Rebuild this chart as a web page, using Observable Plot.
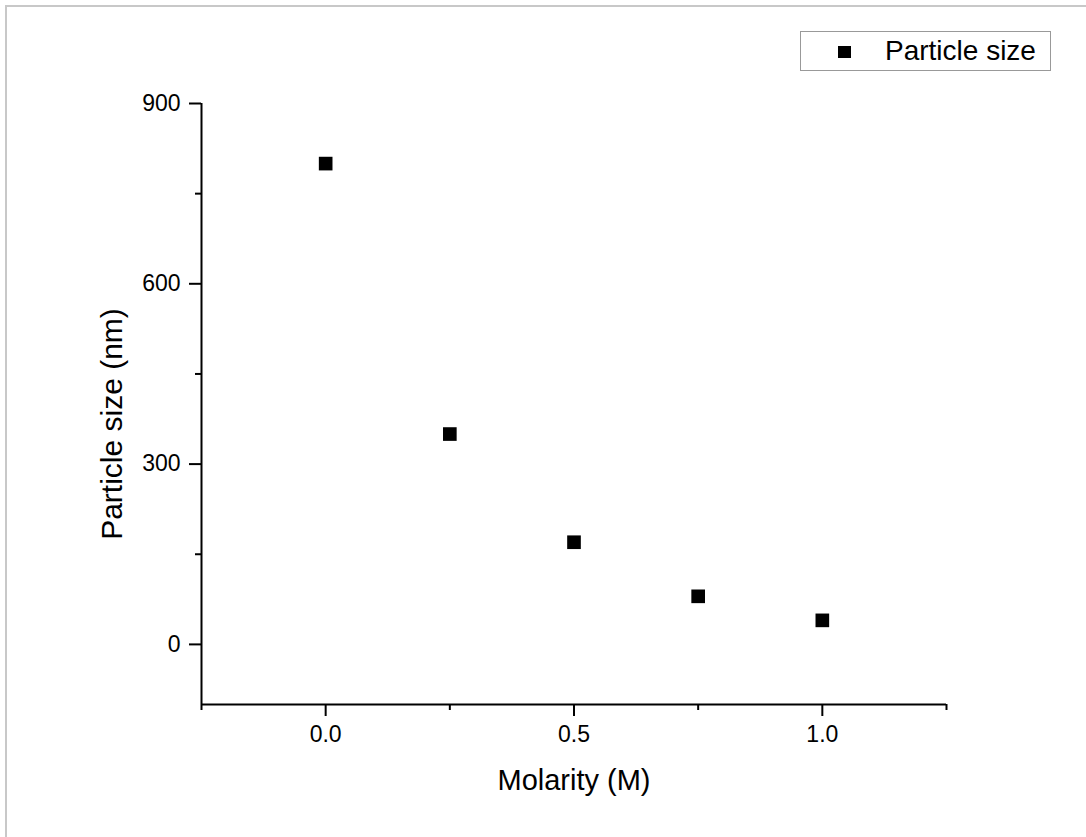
<!DOCTYPE html>
<html>
<head>
<meta charset="utf-8">
<script src="https://cdn.jsdelivr.net/npm/d3@7"></script>
<script src="https://cdn.jsdelivr.net/npm/@observablehq/plot@0.6"></script>
<style>
  html, body { margin: 0; padding: 0; background: #fff; }
  #wrap { position: relative; width: 1086px; height: 837px; overflow: hidden; font-family: "Liberation Sans", Arial, sans-serif; }
  #frame { position: absolute; left: 5px; top: 5px; width: 1090px; height: 840px; border-left: 2px solid #c8c8c8; border-top: 2px solid #c8c8c8; box-sizing: border-box; }
  #legend { position: absolute; left: 800px; top: 31px; width: 251px; height: 40px; border: 1.5px solid #999; box-sizing: border-box; background: #fff; }
  #legend .sw { position: absolute; left: 37px; top: 14px; width: 13px; height: 12px; background: #000; }
  #legend .tx { position: absolute; left: 84px; top: 0px; font-size: 28px; line-height: 37px; color: #000; white-space: nowrap; }
  #chart { position: absolute; left: 0; top: 0; }
</style>
</head>
<body>
<div id="wrap">
  <div id="chart"></div>
  <div id="frame"></div>
  <div id="legend"><div class="sw"></div><div class="tx">Particle size</div></div>
</div>
<script>
const molarity = [0, 0.25, 0.5, 0.75, 1.0];
const particleSize = [800, 350, 170, 80, 40];
const xMajorTicks = [0, 0.5, 1.0];
const xMinorTicks = [-0.25, 0.25, 0.75, 1.25];
const yMajorTicks = [0, 300, 600, 900];
const yMinorTicks = [150, 450, 750];
const xLabel = "Molarity (M)";
const yLabel = "Particle size (nm)";
const seriesName = "Particle size";

const data = molarity.map((m, i) => ({m, s: particleSize[i]}));
const font = "Liberation Sans, Arial, sans-serif";

const chart = Plot.plot({
  width: 1086,
  height: 837,
  marginLeft: 201,
  marginRight: 140,
  marginTop: 103,
  marginBottom: 133,
  style: {fontFamily: font, background: "transparent", color: "#000", overflow: "visible"},
  x: {domain: [-0.25, 1.25]},
  y: {domain: [-100, 900]},
  marks: [
    Plot.axisX({ticks: xMajorTicks, tickSize: 12, tickPadding: 9, tickFormat: d3.format(".1f"), fontSize: 23, strokeWidth: 2, label: null}),
    Plot.axisX({ticks: xMinorTicks, tickSize: 6, tickFormat: () => "", strokeWidth: 2, label: null}),
    Plot.axisY({ticks: yMajorTicks, tickSize: 12, tickPadding: 9, tickFormat: d3.format("d"), fontSize: 23, strokeWidth: 2, label: null}),
    Plot.axisY({ticks: yMinorTicks, tickSize: 6, tickFormat: () => "", strokeWidth: 2, label: null}),
    Plot.ruleY([-100], {stroke: "#000", strokeWidth: 2}),
    Plot.ruleX([-0.25], {stroke: "#000", strokeWidth: 2}),
    Plot.dot(data, {x: "m", y: "s", symbol: "square", r: 7.7, fill: "#000", stroke: "none"}),
    Plot.text([xLabel], {frameAnchor: "bottom", textAnchor: "middle", lineAnchor: "middle", dy: 76, fontSize: 29, fill: "#000"}),
    Plot.text([yLabel], {frameAnchor: "left", textAnchor: "middle", lineAnchor: "middle", dx: -89, dy: 20, rotate: -90, fontSize: 30, fill: "#000"})
  ]
});
document.getElementById("chart").appendChild(chart);
</script>
</body>
</html>
